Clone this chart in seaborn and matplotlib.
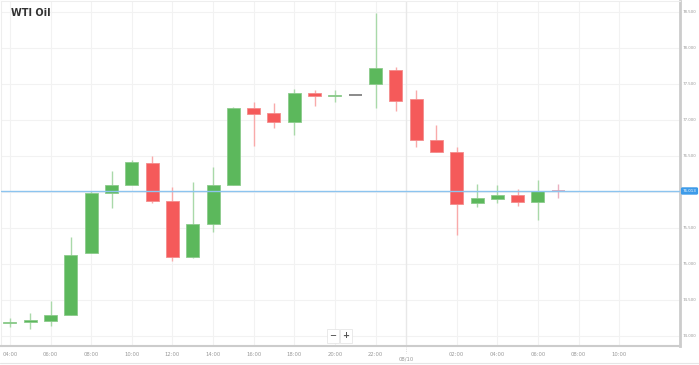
import matplotlib
matplotlib.use("Agg")
import matplotlib.pyplot as plt
import seaborn as sns
import numpy as np
import pandas as pd

# hourly candles, 04:00 on 08/09 to 07:00 on 08/10
hours = ['04:00', '05:00', '06:00', '07:00', '08:00', '09:00', '10:00', '11:00',
         '12:00', '13:00', '14:00', '15:00', '16:00', '17:00', '18:00', '19:00',
         '20:00', '21:00', '22:00', '23:00', '00:00', '01:00', '02:00', '03:00',
         '04:00', '05:00', '06:00', '07:00']
open_ = [74.18, 74.19, 74.21, 74.29, 75.15, 75.98, 76.10, 76.40, 75.87, 75.10,
         75.56, 76.10, 77.16, 77.09, 76.97, 77.38, 77.33, 77.35, 77.50, 77.70,
         77.29, 76.72, 76.55, 75.85, 75.90, 75.96, 75.86, 76.02]
high = [74.25, 74.32, 74.49, 75.37, 76.01, 76.29, 76.45, 76.50, 76.07, 76.14,
        76.34, 77.18, 77.25, 77.24, 77.43, 77.41, 77.42, 77.35, 78.49, 77.74,
        77.42, 76.93, 76.63, 76.11, 76.09, 76.04, 76.17, 76.11]
low = [74.13, 74.10, 74.14, 74.29, 75.15, 75.78, 76.10, 75.85, 75.04, 75.08,
       75.45, 76.09, 76.64, 76.89, 76.79, 77.20, 77.25, 77.35, 77.17, 77.13,
       76.63, 76.55, 75.40, 75.79, 75.85, 75.81, 75.61, 75.92]
close = [74.19, 74.22, 74.29, 75.12, 75.98, 76.10, 76.41, 75.88, 75.10, 75.56,
         76.09, 77.17, 77.08, 76.97, 77.38, 77.33, 77.35, 77.35, 77.72, 77.26,
         76.72, 76.55, 75.83, 75.91, 75.96, 75.86, 76.01, 76.013]

last_price = 76.013
y_ticks = [74.0, 74.5, 75.0, 75.5, 76.0, 76.5, 77.0, 77.5, 78.0, 78.5]
x_tick_labels = ['04:00', '06:00', '08:00', '10:00', '12:00', '14:00', '16:00',
                 '18:00', '20:00', '22:00', '02:00', '04:00', '06:00', '08:00', '10:00']
date_label = '08/10'

df = pd.DataFrame({'hour': hours, 'open': open_, 'high': high,
                   'low': low, 'close': close})
df['x'] = np.arange(len(df))

sns.set_theme(style="white")
plt.rcParams['font.family'] = ['DejaVu Sans']

GREEN = '#5cb85c'
RED = '#f55a5a'
GRAY = '#777777'

fig = plt.figure(figsize=(6.99, 3.65), dpi=100)
ax = fig.add_axes([0.0015, 0.052, 0.9715, 0.945])

# grid
for y in y_ticks:
    ax.axhline(y, color='#f2f2f2', lw=0.8, zorder=0)
x_tick_pos = [0, 2, 4, 6, 8, 10, 12, 14, 16, 18, 22, 24, 26, 28, 30]
for x in x_tick_pos:
    ax.axvline(x, color='#f2f2f2', lw=0.8, zorder=0)
ax.axvline(19.5, color='#e8e8e8', lw=1.0, zorder=0)

# candles
for i, row in df.iterrows():
    if row['close'] > row['open']:
        col, wick = GREEN, '#a9d9a9'
    elif row['close'] < row['open']:
        col, wick = RED, '#f9aaaa'
    else:
        col, wick = GRAY, GRAY
    if i == len(df) - 1:
        col, wick = '#d9a0b4', '#eab0c0'
    ax.vlines(row['x'], row['low'], row['high'], color=wick, lw=1.0, zorder=2)
    bottom = min(row['open'], row['close'])
    height = max(abs(row['close'] - row['open']), 0.018)
    if row['close'] == row['open'] or i == len(df) - 1:
        ax.hlines(row['close'], row['x'] - 0.32, row['x'] + 0.32, color=col, lw=1.2, zorder=3)
    else:
        ax.bar(row['x'], height, bottom=bottom, width=0.64, color=col,
               edgecolor=sns.light_palette(col, 4)[2], linewidth=0.6, zorder=3)

# last price line
ax.axhline(last_price, color='#8cc4ef', lw=1.0, zorder=4)

ax.set_xlim(-0.44, 33.0)
ax.set_ylim(73.86, 78.65)

ax.yaxis.tick_right()
ax.set_yticks(y_ticks)
ax.set_yticklabels([f'{v:.3f}' for v in y_ticks], fontsize=2.9, color='#999999')
ax.tick_params(axis='y', length=1, width=0.5, color='#cccccc', pad=0.6)
ax.set_xticks(x_tick_pos)
ax.set_xticklabels(x_tick_labels, fontsize=3.8, color='#999999')
ax.tick_params(axis='x', length=2, width=0.5, color='#cccccc', pad=2)

for side in ['top', 'left']:
    ax.spines[side].set_color('#eeeeee')
    ax.spines[side].set_linewidth(0.8)
ax.spines['right'].set_color('#cccccc')
ax.spines['right'].set_linewidth(2.0)
ax.spines['bottom'].set_color('#cccccc')
ax.spines['bottom'].set_linewidth(1.5)

# date marker below axis
ax.annotate(date_label, xy=(19.5, 0), xycoords=('data', 'axes fraction'),
            xytext=(0, -9.5), textcoords='offset points', ha='center', va='center',
            fontsize=3.8, color='#999999', annotation_clip=False)
ax.plot([19.5, 19.5], [0, -0.02], transform=ax.get_xaxis_transform(),
        color='#cccccc', lw=0.6, ls=':', clip_on=False)

# price label
ax.annotate(f'{last_price:.3f}', xy=(1.0, last_price), xycoords=('axes fraction', 'data'),
            xytext=(1.8, 0), textcoords='offset points', ha='left', va='center',
            fontsize=2.9, color='white', annotation_clip=False,
            bbox=dict(boxstyle='round,pad=0.25,rounding_size=0.2', fc='#3d9be9', ec='#3d9be9'))

ax.text(10 / 681, 1 - 12 / 345, 'WTI Oil', transform=ax.transAxes, fontsize=7,
        fontweight='bold', color='#333333', ha='left', va='center')

# zoom buttons
for xp, s in [(333, '\u2212'), (346, '+')]:
    fig.text(xp / 699, 1 - 336 / 365, s, fontsize=6, fontweight='bold', color='#555555',
             ha='center', va='center',
             bbox=dict(boxstyle='square,pad=0.25', fc='white', ec='#e6e6e6', lw=0.6))

fig.add_artist(plt.Line2D([0, 1], [1 - 363 / 365] * 2, color='#e6e6e6', lw=0.8))

fig.savefig('out.png', dpi=100)
